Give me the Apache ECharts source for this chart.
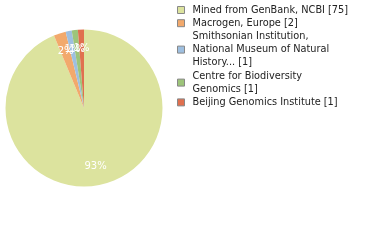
<!DOCTYPE html>
<html><head><meta charset="utf-8">
<script src="https://cdn.jsdelivr.net/npm/echarts@6/dist/echarts.min.js"></script>
<style>html,body{margin:0;padding:0;background:#fff}#c{width:380px;height:240px}</style>
</head><body><div id="c"></div>
<script>
const names = ["Mined from GenBank, NCBI [75]", "Macrogen, Europe [2]", "Smithsonian Institution,\nNational Museum of Natural\nHistory... [1]", "Centre for Biodiversity\nGenomics [1]", "Beijing Genomics Institute [1]"];
const values = [75, 2, 1, 1, 1];
const colors = ["#dce39e", "#f2a96c", "#9ebfe0", "#9dc47a", "#e0704f"];

const data = names.map((n, i) => ({name: n, value: values[i], itemStyle: {color: colors[i]}}));
const total = values.reduce((a, b) => a + b, 0);
const chart = echarts.init(document.getElementById('c'), null, {renderer: 'canvas'});
chart.setOption({
  animation: false,
  legend: {
    orient: 'vertical', left: 177, top: 3.4, padding: 0,
    itemWidth: 7, itemHeight: 7, itemGap: 0,
    icon: 'rect',
    itemStyle: {borderColor: '#888', borderWidth: 1},
    textStyle: {fontFamily: 'DejaVu Sans', fontSize: 9.75, color: '#222', lineHeight: 13.2, padding: [0,0,0,3]},
    data: names
  },
  series: [{
    type: 'pie', radius: [0, 78.5], center: [84, 108],
    startAngle: 90, clockwise: true,
    label: {show: false}, labelLine: {show: false},
    data: data, silent: true
  }, {
    type: 'pie', radius: [34, 78.5], center: [84, 108],
    startAngle: 90, clockwise: true, silent: true,
    itemStyle: {color: 'rgba(0,0,0,0)'},
    label: {show: true, position: 'inside', color: '#fff', fontFamily: 'DejaVu Sans', fontSize: 10,
      formatter: p => Math.floor(p.value / total * 100) + '%'},
    labelLine: {show: false},
    labelLayout: {hideOverlap: false},
    data: names.map((n, i) => ({name: n + ' ', value: values[i]})),
    legendHoverLink: false
  }]
});
</script></body></html>
